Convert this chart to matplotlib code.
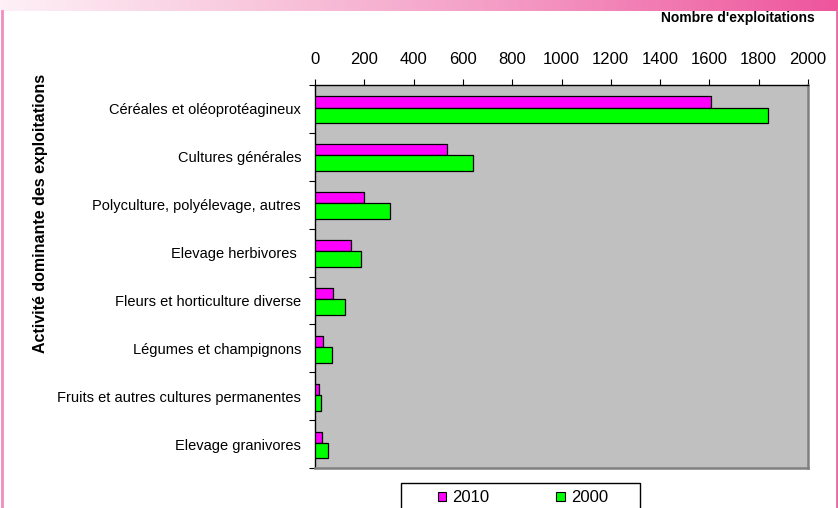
import matplotlib
matplotlib.use("Agg")
import matplotlib.pyplot as plt
import numpy as np
from matplotlib.colors import LinearSegmentedColormap
from matplotlib.patches import Patch, Rectangle
from matplotlib.lines import Line2D

categories = [
    "Céréales et oléoprotéagineux",
    "Cultures générales",
    "Polyculture, polyélevage, autres",
    "Elevage herbivores ",
    "Fleurs et horticulture diverse",
    "Légumes et champignons",
    "Fruits et autres cultures permanentes",
    "Elevage granivores",
]
values_2010 = [1607, 535, 200, 145, 73, 34, 18, 28]
values_2000 = [1838, 640, 305, 185, 123, 68, 23, 51]
series_labels = ["2010", "2000"]
x_ticks = list(range(0, 2001, 200))
x_title = "Nombre d'exploitations"
y_title = "Activité dominante des exploitations"

plt.rcParams['font.family'] = ['Liberation Sans', 'DejaVu Sans']

W, H = 838, 508
fig = plt.figure(figsize=(W / 100, H / 100), dpi=100)
fig.patch.set_facecolor('white')

# top gradient band
gax = fig.add_axes([0, 1 - 11 / H, 1, 11 / H])
cmap = LinearSegmentedColormap.from_list(
    'pinkgrad', [(0, '#FEF0F6'), (0.25, '#F9CFE1'), (0.6, '#F49CC5'), (1, '#EE559C')])
gax.imshow(np.linspace(0, 1, 256)[None, :], aspect='auto', cmap=cmap, extent=[0, 1, 0, 1])
gax.set_axis_off()

# side border lines
fig.add_artist(Line2D([1.5 / W, 1.5 / W], [0, 1 - 11 / H], color='#F28DBE', lw=2,
                      transform=fig.transFigure))
fig.add_artist(Line2D([836.5 / W, 836.5 / W], [0, 1 - 11 / H], color='#E36BA3', lw=2,
                      transform=fig.transFigure))

ax = fig.add_axes([315 / W, 1 - 468 / H, (808 - 315) / W, (468 - 85) / H])
ax.set_facecolor('#C0C0C0')

n = len(categories)
centers = np.arange(n) + 0.5
ax.barh(centers - 0.26, values_2010, height=0.23, align='edge', color='#FF00FF',
        edgecolor='black', linewidth=0.9, label=series_labels[0], zorder=3)
ax.barh(centers - 0.03, values_2000, height=0.33, align='edge', color='#00FF00',
        edgecolor='black', linewidth=0.9, label=series_labels[1], zorder=3)

ax.set_xlim(0, 2000)
ax.set_ylim(n, 0)
ax.xaxis.tick_top()
ax.set_xticks(x_ticks)
ax.set_xticklabels([str(t) for t in x_ticks], fontsize=12)
ax.tick_params(axis='x', direction='out', length=4, width=0.8, pad=9, colors='black')

ax.set_yticks(centers)
ax.set_yticklabels(categories, fontsize=10.5)
ax.tick_params(axis='y', which='major', length=0, pad=10)
ax.set_yticks(np.arange(n + 1), minor=True)
ax.tick_params(axis='y', which='minor', direction='out', length=4, width=0.8)

for s in ['top', 'left']:
    ax.spines[s].set_color('black')
    ax.spines[s].set_linewidth(1.0)
for s in ['right', 'bottom']:
    ax.spines[s].set_color('#808080')
    ax.spines[s].set_linewidth(1.8)

fig.text(815 / W, 1 - 18 / H, x_title, ha='right', va='center', fontsize=10,
         fontweight='bold')
fig.text(41 / W, 1 - 213 / H, y_title, ha='center', va='center', rotation=90,
         fontsize=11.5, fontweight='bold')

# legend
fig.add_artist(Rectangle((401 / W, -0.1), (640 - 401) / W, (508 - 483) / H + 0.1,
                         transform=fig.transFigure, facecolor='white', edgecolor='black',
                         linewidth=1.0))
handles = [Patch(facecolor='#FF00FF', edgecolor='black', linewidth=0.8),
           Patch(facecolor='#00FF00', edgecolor='black', linewidth=0.8)]
fig.legend(handles, series_labels, ncol=2, frameon=False, loc='center left',
           bbox_to_anchor=(437.5 / W, 1 - 498 / H), fontsize=12, borderpad=0,
           borderaxespad=0, handlelength=0.5, handleheight=0.45, handletextpad=0.4,
           columnspacing=4.0)

fig.savefig('out.png', dpi=100)
